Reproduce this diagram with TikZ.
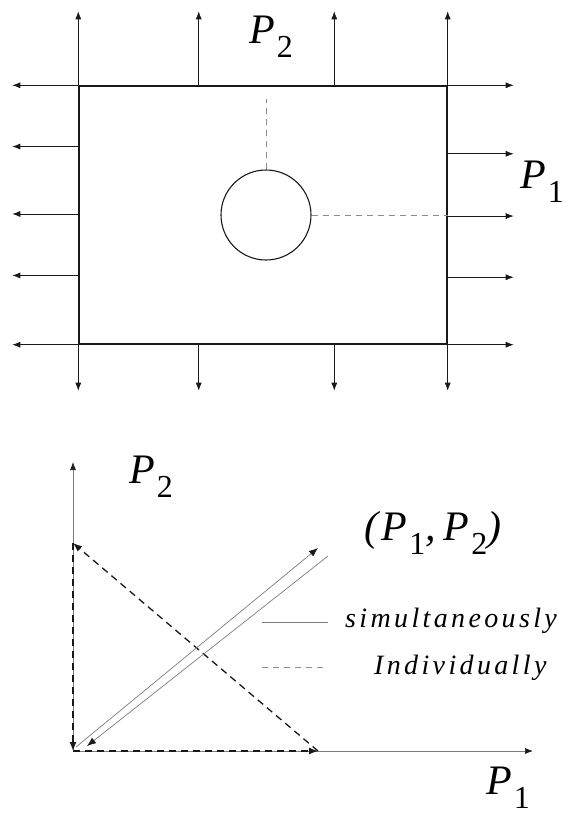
\documentclass[tikz,border=0pt]{standalone}
\usepackage{fontspec}
\setmainfont{Liberation Serif}
\usetikzlibrary{calc,arrows.meta,positioning}
\definecolor{edgeColor}{RGB}{25,25,25}
\definecolor{thinColor}{RGB}{125,125,125}
\definecolor{guideColor}{RGB}{140,140,140}
\newcommand{\loadfont}{\fontsize{42}{44}\selectfont\itshape}
\newcommand{\subfont}{\fontsize{32}{34}\selectfont\upshape}
\newcommand{\legendfont}{\fontsize{28}{30}\selectfont\itshape\addfontfeatures{LetterSpace=12}}
\newcommand{\Pload}[1]{{\loadfont P}\kern2pt\raisebox{-14pt}{\subfont #1}}

\begin{document}
\begin{tikzpicture}[x=1pt, y=-1pt,
        plate/.style={draw, edgeColor, line width=1.4pt, minimum width=368pt, minimum height=258pt, inner sep=0pt},
        hole/.style={draw, circle, edgeColor, line width=1.1pt, minimum size=90pt, inner sep=0pt},
        arr/.style={-{Latex[length=8pt, width=6pt]}, line width=0.7pt, edgeColor},
        guide/.style={guideColor, line width=0.7pt, dash pattern=on 6pt off 5pt},
        axis/.style={-{Latex[length=8pt, width=6pt, color=edgeColor]}, line width=0.7pt, thinColor},
        indiv/.style={-{Latex[length=9pt, width=7pt]}, line width=1.3pt, edgeColor, dash pattern=on 7pt off 5pt},
        simul/.style={-{Latex[length=9pt, width=7pt, color=edgeColor]}, line width=0.7pt, thinColor},
        lbl/.style={inner sep=0pt, font=\loadfont},
        legend/.style={inner sep=0pt, anchor=west, font=\legendfont}
      ]
      \useasboundingbox (0,0) rectangle (570,815);

      % plate with a hole
      \node[plate] (plate) at (263,215) {};
      \node[hole] (hole) at (266,215) {};
      \draw[guide] (hole.north) -- ++(0,-70);
      \draw[guide] (hole.east) -- (hole.east -| plate.east);

      % loads on the edges
      \foreach \f in {0,0.326,0.693,1} {
        \draw[arr] ($(plate.north west)!\f!(plate.north east)$) -- ++(0,-74);
        \draw[arr] ($(plate.south west)!\f!(plate.south east)$) -- ++(0,46);
      }
      \foreach \f in {0,0.236,0.496,0.733,1}
        \draw[arr] ($(plate.north west)!\f!(plate.south west)$) -- ++(-66,0);
      \foreach \f in {0,0.264,0.504,0.740,1}
        \draw[arr] ($(plate.north east)!\f!(plate.south east)$) -- ++(66,0);

      \node[lbl] (p2top) at (271,37) {\Pload{2}};
      \node[lbl] (p1top) at (542,182) {\Pload{1}};

      % load paths
      \coordinate (origin) at (73,751);
      \coordinate (p2end) at (73,462);
      \coordinate (p1end) at (533,751);
      \coordinate (p2max) at (73,543);
      \coordinate (p1max) at (318,751);
      \coordinate (upA) at (76,747);
      \coordinate (upB) at (318,548);
      \coordinate (downA) at (328,556);
      \coordinate (downB) at (87,746);

      \draw[axis] (origin) -- (p2end);
      \draw[axis] (origin) -- (p1end);
      \draw[indiv] (origin) -- (p1max);
      \draw[indiv] (p1max) -- (p2max);
      \draw[indiv] (p2max) -- (origin);
      \draw[simul] (upA) -- (upB);
      \draw[simul] (downA) -- (downB);

      \node[lbl] (p2ax) at (151,477) {\Pload{2}};
      \node[lbl] (p1ax) at (508,788) {\Pload{1}};
      \node[lbl] (both) at (433,533) {(\kern3pt\Pload{1},\kern8pt\Pload{2})};

      % legend
      \coordinate (legS) at (262,622);
      \coordinate (legI) at (262,667);
      \node[legend] (simtxt) at (345,621) {simultaneously};
      \node[legend] (indtxt) at (374,668) {Individually};
      \draw[simul, -] (legS) -- ++(66,0);
      \draw[guide] (legI) -- ++(66,0);
    \end{tikzpicture}
\end{document}
